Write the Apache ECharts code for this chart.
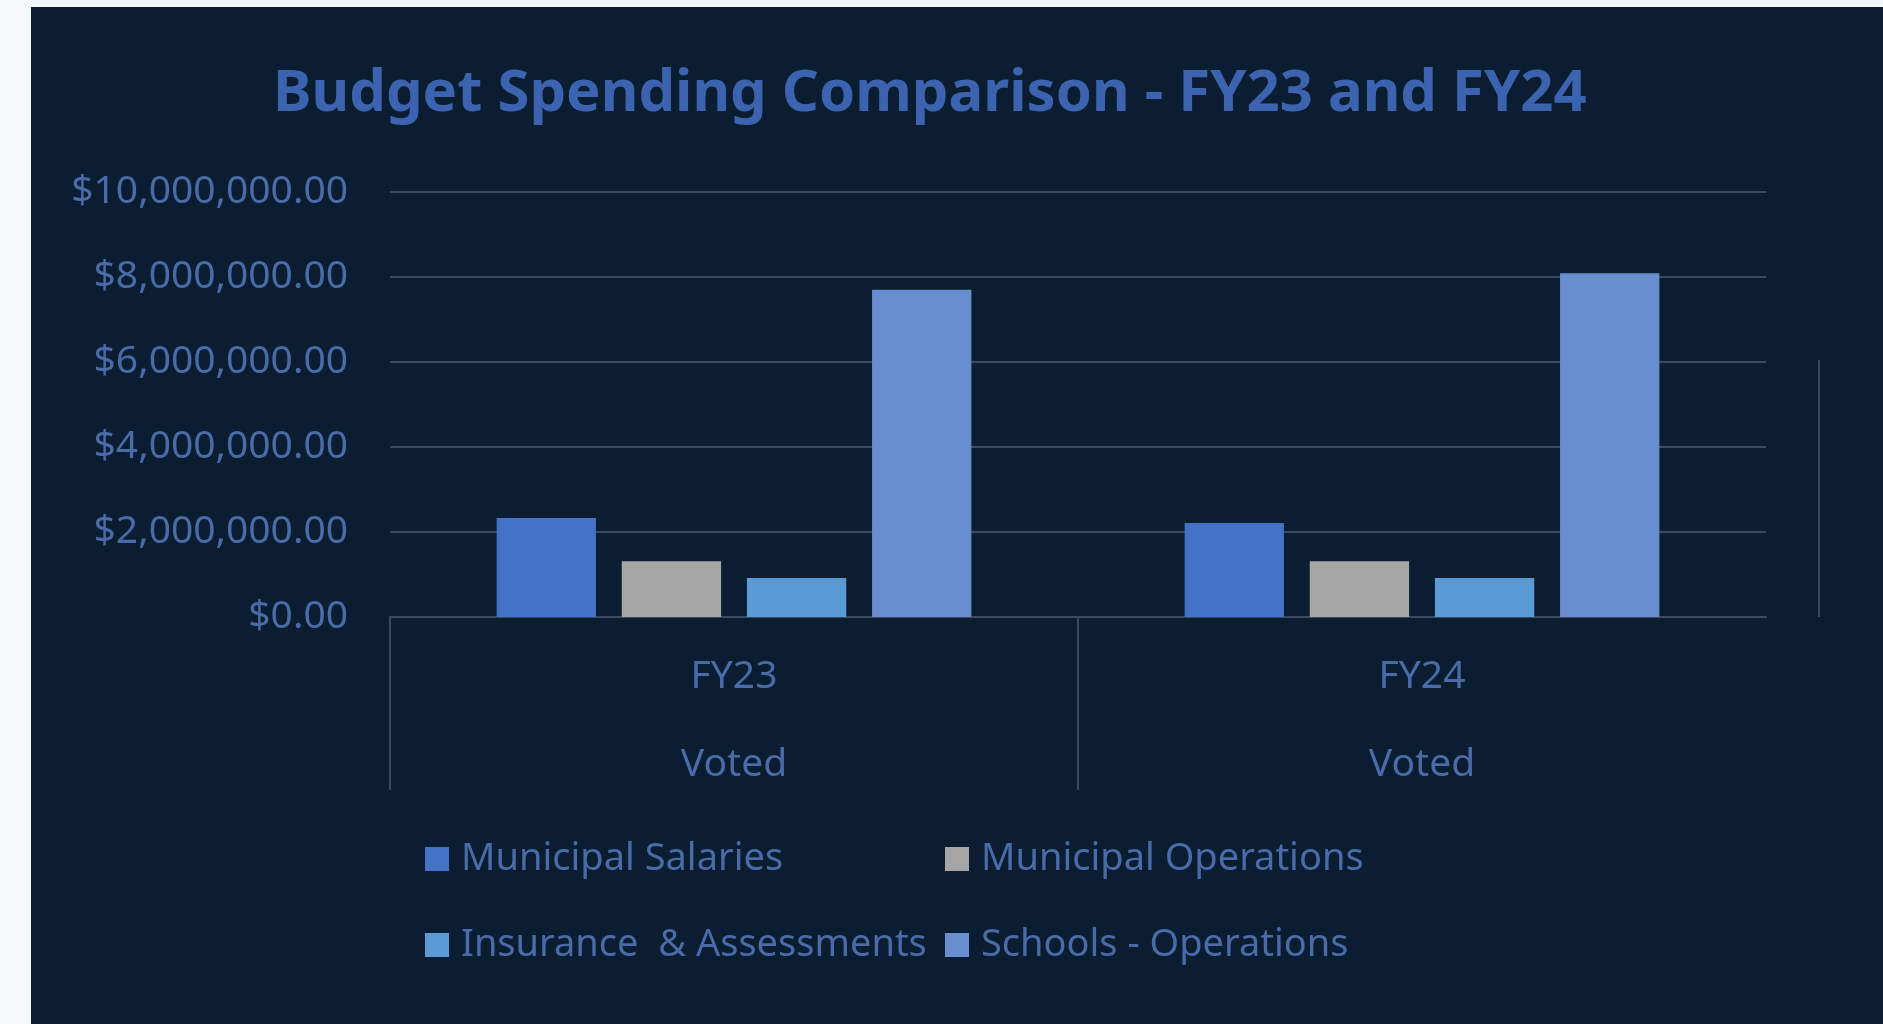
<!DOCTYPE html>
<html>
<head>
<meta charset="utf-8">
<title>Budget Spending Comparison</title>
<script src="https://cdn.jsdelivr.net/npm/echarts@6/dist/echarts.min.js"></script>
<style>
    html, body { margin: 0; padding: 0; background: #f6f8fc; }
    #panel { position: absolute; left: 31px; top: 7px; right: 0; bottom: 0; background: #0b1d30; }
    #chart { position: absolute; left: 0; top: 0; width: 1883px; height: 1024px; }
</style>
</head>
<body>
<div id="panel"></div>
<div id="chart"></div>
<script>
// 数据
var categories = ['FY23', 'FY24'];
var subCategories = ['Voted', 'Voted'];
var seriesNames = ['Municipal Salaries', 'Municipal Operations', 'Insurance  & Assessments', 'Schools - Operations'];
var municipalSalaries = [2330000, 2210000];
var municipalOperations = [1310000, 1310000];
var insuranceAssessments = [920000, 920000];
var schoolsOperations = [7700000, 8090000];
var yTicks = [0, 2000000, 4000000, 6000000, 8000000, 10000000];

var colors = ['#4472c4', '#a5a5a5', '#5b9bd5', '#698ed0'];
var labelColor = '#4a6aa8';
var lineColor = '#3a4b5d';
var font = 'Noto Sans';

var chart = echarts.init(document.getElementById('chart'));

function money(v) {
    return '$' + v.toLocaleString('en-US', {minimumFractionDigits: 2, maximumFractionDigits: 2});
}

var values = [municipalSalaries, municipalOperations, insuranceAssessments, schoolsOperations];
var series = seriesNames.map(function (name, i) {
    return {
        name: name,
        type: 'bar',
        xAxisIndex: 0,
        barGap: '26%',
        barCategoryGap: '31%',
        itemStyle: {color: colors[i]},
        data: values[i]
    };
});

var legendText = {color: labelColor, fontFamily: font, fontSize: 38, lineHeight: 44, padding: [0, 0, 0, 7]};

var option = {
    animation: false,
    color: colors,
    title: {
        text: 'Budget Spending Comparison - FY23 and FY24',
        left: 268,
        top: 60,
        textStyle: {
            color: '#3c63b0',
            fontFamily: font,
            fontWeight: 'bold',
            fontSize: 58
        }
    },
    legend: [{
        orient: 'vertical',
        left: 420,
        top: 832,
        itemWidth: 24,
        itemHeight: 24,
        itemGap: 42,
        icon: 'rect',
        data: [seriesNames[0], seriesNames[2]],
        textStyle: legendText
    }, {
        orient: 'vertical',
        left: 940,
        top: 832,
        itemWidth: 24,
        itemHeight: 24,
        itemGap: 42,
        icon: 'rect',
        data: [seriesNames[1], seriesNames[3]],
        textStyle: legendText
    }],
    grid: {
        left: 390,
        right: 117,
        top: 192,
        bottom: 407,
        containLabel: false
    },
    xAxis: [{
        type: 'category',
        data: categories,
        axisLine: {lineStyle: {color: lineColor, width: 2}},
        axisTick: {show: false},
        axisLabel: {
            margin: 16,
            color: labelColor,
            fontFamily: font,
            fontSize: 39,
            lineHeight: 88,
            formatter: function (v, idx) {
                return v + '\n' + subCategories[idx];
            }
        }
    }, {
        // 分组分隔线（只画左边和中间两条）
        type: 'value',
        position: 'bottom',
        min: 0,
        max: categories.length,
        interval: 1,
        axisLine: {show: false},
        axisLabel: {show: false},
        splitLine: {show: false},
        axisTick: {
            show: true,
            inside: false,
            length: 173,
            customValues: [0, 1],
            lineStyle: {color: lineColor, width: 2}
        }
    }],
    yAxis: {
        type: 'value',
        min: yTicks[0],
        max: yTicks[yTicks.length - 1],
        interval: yTicks[1] - yTicks[0],
        axisLine: {show: false},
        axisTick: {show: false},
        splitLine: {lineStyle: {color: lineColor, width: 2}},
        axisLabel: {
            margin: 42,
            color: labelColor,
            fontFamily: font,
            fontSize: 39,
            formatter: money
        }
    },
    graphic: [{
        type: 'line',
        shape: {x1: 1819, y1: 360, x2: 1819, y2: 617},
        style: {stroke: lineColor, lineWidth: 2}
    }],
    series: series
};

chart.setOption(option);
</script>
</body>
</html>
